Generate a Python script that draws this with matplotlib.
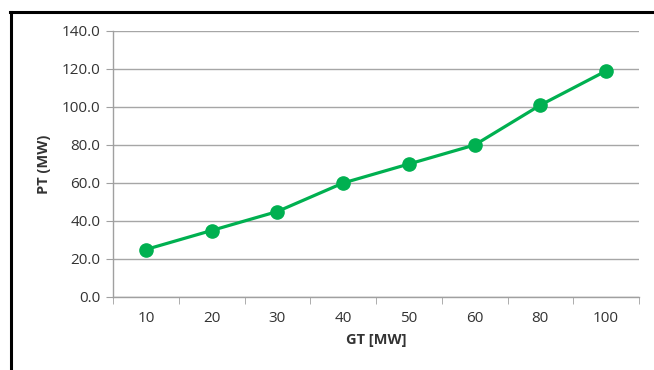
import numpy as np
import matplotlib.pyplot as plt
from matplotlib.lines import Line2D

# data
gt_labels = ['10', '20', '30', '40', '50', '60', '80', '100']
pt_values = [25, 35, 45, 60, 70, 80, 101, 119]

W, H = 654, 370
fig = plt.figure(figsize=(W / 100, H / 100), dpi=100)
plt.rcParams['font.family'] = ['Open Sans', 'DejaVu Sans']

ax = fig.add_axes([113 / W, (H - 297) / H, (639 - 113) / W, (297 - 31) / H])

x = np.arange(len(gt_labels))
ax.plot(x, pt_values, color='#00B050', linewidth=2.3, marker='o',
        markersize=9.5, zorder=3)

ax.set_xlim(-0.5, len(gt_labels) - 0.5)
ax.set_ylim(0, 140)
ax.set_yticks(np.arange(0, 141, 20))
ax.set_yticklabels(['%.1f' % v for v in np.arange(0, 141, 20)])
ax.set_xticks(x)
ax.set_xticklabels(gt_labels)
ax.set_xticks(np.arange(-0.5, len(gt_labels)), minor=True)

ax.tick_params(axis='x', which='major', length=0, pad=10, labelsize=11, labelcolor='#333333')
ax.tick_params(axis='x', which='minor', length=5, color='#A0A0A0', direction='out')
ax.tick_params(axis='y', length=5, color='#A0A0A0', pad=4, labelsize=11, labelcolor='#333333')

ax.grid(axis='y', color='#A6A6A6', linewidth=1)
ax.set_axisbelow(True)
for s in ['top', 'right']:
    ax.spines[s].set_visible(False)
for s in ['left', 'bottom']:
    ax.spines[s].set_color('#A0A0A0')
    ax.spines[s].set_linewidth(1)

ax.set_xlabel('GT [MW]', fontsize=10.5, fontweight='bold', color='#333333', labelpad=5)
ax.set_ylabel('PT (MW)', fontsize=10.5, fontweight='bold', color='#333333', labelpad=8)

# outer frame, only left and top visible
fig.add_artist(Line2D([10.5 / W, 10.5 / W], [0, (H - 12) / H], color='black',
                      linewidth=2.2, transform=fig.transFigure))
fig.add_artist(Line2D([10 / W, 1], [(H - 12) / H, (H - 12) / H], color='black',
                      linewidth=2.2, transform=fig.transFigure))

fig.savefig('out.png', dpi=100)
